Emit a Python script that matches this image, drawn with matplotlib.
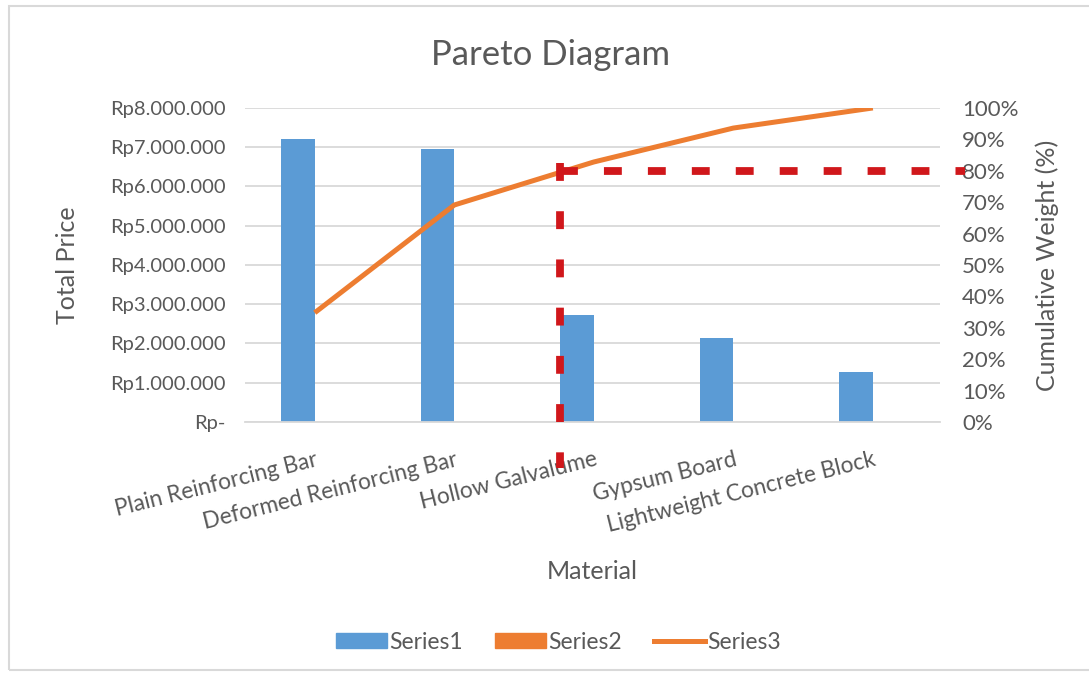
import matplotlib.pyplot as plt
import matplotlib.patches as mpatches
import matplotlib.transforms as mtransforms
from matplotlib.lines import Line2D
from matplotlib.ticker import FuncFormatter, MultipleLocator

# data
materials = ["Plain Reinforcing Bar", "Deformed Reinforcing Bar", "Hollow Galvalume",
             "Gypsum Board", "Lightweight Concrete Block"]
total_price = [7200000, 6950000, 2720000, 2150000, 1270000]
cumulative_pct = [34.8, 69.1, 82.8, 93.6, 100.0]
cutoff_pct = 80

blue = "#5B9BD5"
orange = "#ED7D31"
red = "#D0171B"
grey_txt = "#595959"
grid_col = "#D9D9D9"

plt.rcParams.update({"font.family": ["Lato", "DejaVu Sans"]})

fig = plt.figure(figsize=(10.89, 6.79), dpi=100)
ax = fig.add_axes([0.225, 0.3785, 0.638, 0.4625])
ax2 = ax.twinx()

x = list(range(len(materials)))
ax.bar(x, total_price, width=0.24, color=blue, zorder=2)
ax.set_xlim(-0.38, 4.6)
ax.set_ylim(0, 8000000)
ax.yaxis.set_major_locator(MultipleLocator(1000000))

def rupiah(v, pos):
    if v == 0:
        return "Rp-"
    return "Rp" + f"{int(v):,}".replace(",", ".")
ax.yaxis.set_major_formatter(FuncFormatter(rupiah))
ax.grid(axis="y", color=grid_col, lw=1.3, zorder=0)
ax.set_axisbelow(True)
for s in ax.spines.values():
    s.set_visible(False)
for s in ax2.spines.values():
    s.set_visible(False)
ax.spines["bottom"].set_visible(True)
ax.spines["bottom"].set_color(grid_col)
ax.spines["bottom"].set_linewidth(1.3)

# category labels drawn as text so they can sit a bit right of the bar like in Excel
ax.set_xticks(x)
ax.set_xticklabels([])
ax.tick_params(axis="x", length=0)
lbl_trans = ax.get_xaxis_transform() + mtransforms.ScaledTranslation(0.17, -0.27, fig.dpi_scale_trans)
for i, name in zip(x, materials):
    ax.text(i, 0, name, transform=lbl_trans, rotation=14, ha="right", va="top",
            rotation_mode="anchor", fontsize=16.3, color=grey_txt)

ax.tick_params(axis="y", length=0, labelsize=14.5, labelcolor=grey_txt, pad=14)
ax.set_ylabel("Total Price", fontsize=18, color=grey_txt, labelpad=22)
ax.text(0.5, -0.475, "Material", transform=ax.transAxes, ha="center", va="center",
        fontsize=18, color=grey_txt)

# cumulative line on secondary axis
line_x = [i + 0.12 for i in x]
ax2.plot(line_x, cumulative_pct, color=orange, lw=3.6, solid_capstyle="butt", zorder=3)
ax2.set_ylim(0, 100)
ax2.yaxis.set_major_locator(MultipleLocator(10))
ax2.yaxis.set_major_formatter(FuncFormatter(lambda v, p: f"{int(v)}%"))
ax2.tick_params(axis="y", length=0, labelsize=16, labelcolor=grey_txt, pad=16)
ax2.set_ylabel("Cumulative Weight (%)", fontsize=18, color=grey_txt, labelpad=12)

# 80% cut-off marker
cut_x = 2 - 0.125
ax2.plot([cut_x, cut_x], [cutoff_pct + 2.5, -14.5], color=red, lw=5.6, ls=(0, (2.3, 3.9)),
         clip_on=False, zorder=5)
ax2.plot([cut_x, 4.78], [cutoff_pct, cutoff_pct], color=red, lw=5.6, ls=(0, (2.3, 3.35)),
         clip_on=False, zorder=5)

fig.text(0.506, 0.919, "Pareto Diagram", ha="center", va="center", fontsize=25, color=grey_txt)

handles = [mpatches.Patch(color=blue, label="Series1"),
           mpatches.Patch(color=orange, label="Series2"),
           Line2D([0], [0], color=orange, lw=3.6, label="Series3")]
fig.legend(handles=handles, loc="center", bbox_to_anchor=(0.513, 0.054), ncol=3, frameon=False,
           fontsize=16.5, labelcolor=grey_txt, handlelength=2.2, handleheight=0.6,
           columnspacing=1.4, handletextpad=0.12)

# light chart border
fig.patches.append(mpatches.Rectangle((0.008, 0.013), 1.1, 0.978, transform=fig.transFigure,
                                      fill=False, edgecolor=grid_col, lw=1.5))

fig.savefig("out.png", dpi=100)
